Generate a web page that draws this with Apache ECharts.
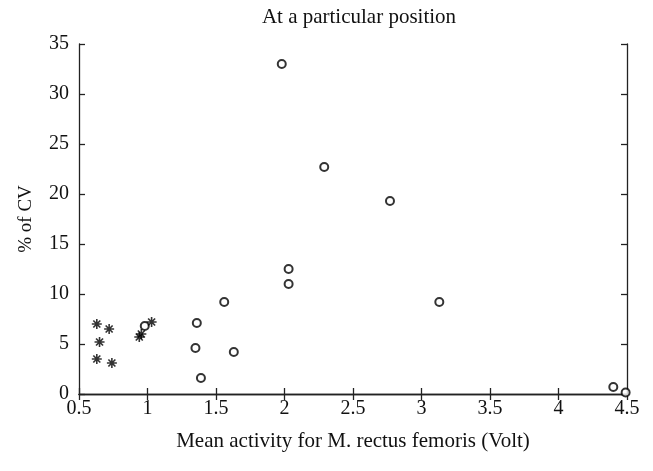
<!DOCTYPE html>
<html>
<head>
<meta charset="utf-8">
<script src="https://cdn.jsdelivr.net/npm/echarts@6/dist/echarts.min.js"></script>
<style>
  html, body { margin: 0; padding: 0; background: #fff; }
  #chart { width: 653px; height: 471px; }
</style>
</head>
<body>
<div id="chart"></div>
<script>
// stars: first group (x = mean activity, y = % of CV)
var starX = [0.63, 0.72, 0.65, 0.63, 0.74, 0.94, 0.955, 1.03];
var starY = [7.0, 6.5, 5.2, 3.5, 3.1, 5.7, 6.0, 7.2];
// open circles: second group
var circX = [0.98, 1.36, 1.35, 1.39, 1.63, 1.56, 1.98, 2.03, 2.03, 2.29, 2.77, 3.13, 4.40, 4.49];
var circY = [6.8, 7.1, 4.6, 1.6, 4.2, 9.2, 33.0, 12.5, 11.0, 22.7, 19.3, 9.2, 0.7, 0.15];
var xTicks = [0.5, 1, 1.5, 2, 2.5, 3, 3.5, 4, 4.5];
var yTicks = [0, 5, 10, 15, 20, 25, 30, 35];

var font = 'Liberation Serif';
var asterisk = 'path://M4.2 0L5.8 0L5.8 10L4.2 10Z M0 4.2L10 4.2L10 5.8L0 5.8Z M0.9 2.1L2.1 0.9L9.1 7.9L7.9 9.1Z M7.9 0.9L9.1 2.1L2.1 9.1L0.9 7.9Z';

function pairs(xs, ys) {
    var out = [];
    for (var i = 0; i < xs.length; i++) {
        out.push([xs[i], ys[i]]);
    }
    return out;
}

var axisLine = { show: true, lineStyle: { color: '#222', width: 1.3 } };
var tick = { show: true, inside: true, length: 6, lineStyle: { color: '#222', width: 1.3 } };

var option = {
    animation: false,
    backgroundColor: '#fff',
    textStyle: { fontFamily: font },
    title: {
        text: 'At a particular position',
        left: 354, top: 2, textAlign: 'center',
        textStyle: { fontFamily: font, fontSize: 21, fontWeight: 'normal', color: '#111' }
    },
    grid: { left: 79, right: 26, top: 44, bottom: 77 },
    xAxis: [{
        type: 'value', min: 0.5, max: 4.5, interval: 0.5,
        axisLine: axisLine, axisTick: tick, splitLine: { show: false },
        axisLabel: { color: '#111', fontSize: 20, fontFamily: font, margin: 5 },
        name: 'Mean activity for M. rectus femoris (Volt)',
        nameLocation: 'middle', nameGap: 37,
        nameTextStyle: { color: '#111', fontSize: 21, fontFamily: font }
    }, {
        type: 'value', position: 'top', min: 0.5, max: 4.5, interval: 0.5,
        axisLine: axisLine, axisTick: tick, axisLabel: { show: false }, splitLine: { show: false }
    }],
    yAxis: [{
        type: 'value', min: 0, max: 35, interval: 5,
        axisLine: axisLine, axisTick: tick, splitLine: { show: false },
        axisLabel: { color: '#111', fontSize: 20, fontFamily: font, margin: 10 },
        name: '% of CV',
        nameLocation: 'middle', nameGap: 43, nameRotate: 90,
        nameTextStyle: { color: '#111', fontSize: 19, fontFamily: font }
    }, {
        type: 'value', position: 'right', min: 0, max: 35, interval: 5,
        axisLine: axisLine, axisTick: tick, axisLabel: { show: false }, splitLine: { show: false }
    }],
    series: [{
        type: 'scatter',
        data: pairs(circX, circY),
        symbol: 'emptyCircle',
        symbolSize: 8,
        itemStyle: { color: '#000', borderColor: '#000', borderWidth: 1.6 }
    }, {
        type: 'scatter',
        data: pairs(starX, starY),
        symbol: asterisk,
        symbolSize: 10,
        itemStyle: { color: '#000' }
    }]
};

echarts.init(document.getElementById('chart')).setOption(option);
</script>
</body>
</html>
